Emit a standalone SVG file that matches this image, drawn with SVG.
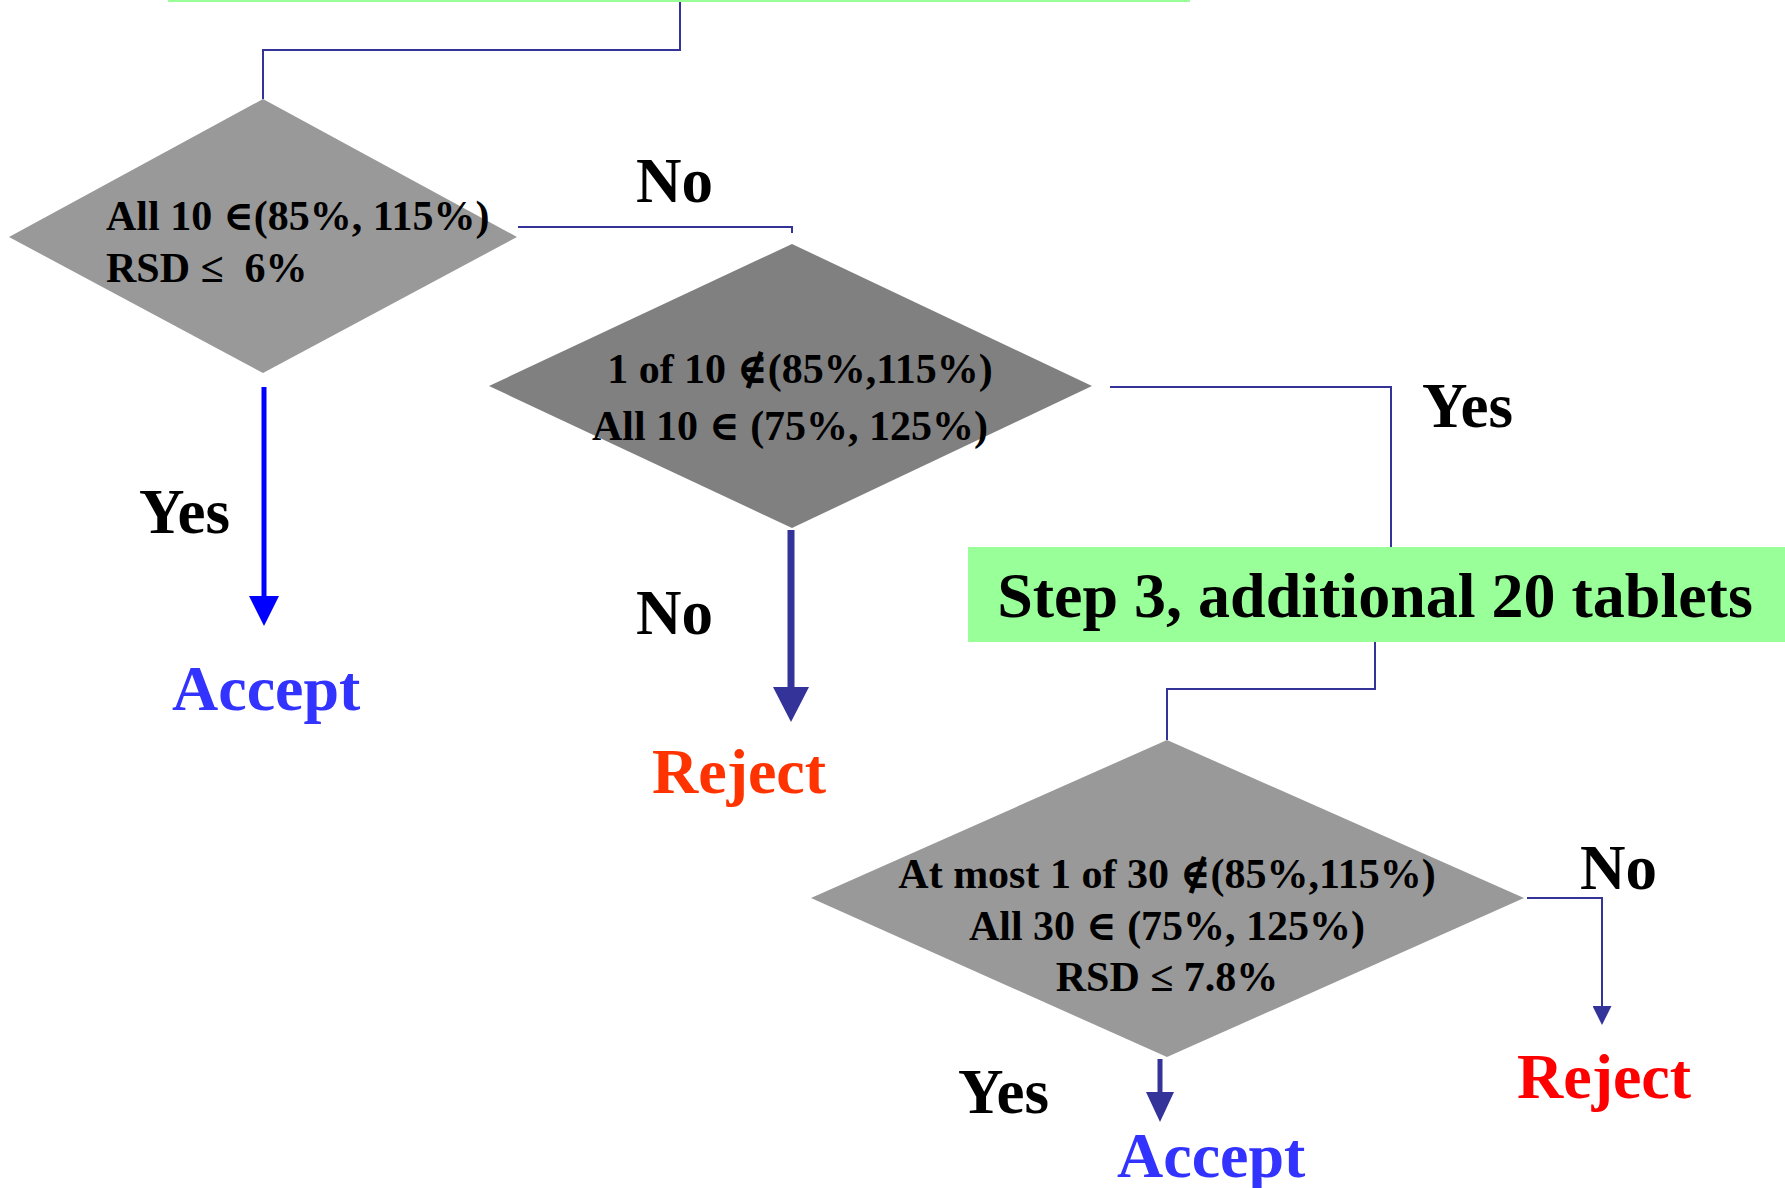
<svg xmlns="http://www.w3.org/2000/svg" width="1785" height="1188" viewBox="0 0 1785 1188">
<style>
.t{font-family:"Liberation Serif","DejaVu Serif",serif;font-weight:bold;}
.cond{font-size:42px;fill:#000;}
.lbl{font-size:63px;fill:#000;}
.big{font-size:64px;}
.conn{fill:none;stroke:#333399;stroke-width:2;}
</style>
<defs>
<marker id="mBlue" markerUnits="userSpaceOnUse" markerWidth="30" markerHeight="30" refX="0" refY="15" orient="auto" viewBox="0 0 30 30"><path d="M0,0 L30,15 L0,30 z" fill="#0000FF"/></marker>
<marker id="mDarkBig" markerUnits="userSpaceOnUse" markerWidth="35" markerHeight="36" refX="0" refY="18" orient="auto" viewBox="0 0 35 36"><path d="M0,0 L35,18 L0,36 z" fill="#333399"/></marker>
<marker id="mDarkMid" markerUnits="userSpaceOnUse" markerWidth="30" markerHeight="28" refX="0" refY="14" orient="auto" viewBox="0 0 30 28"><path d="M0,0 L30,14 L0,28 z" fill="#333399"/></marker>
<marker id="mDarkSmall" markerUnits="userSpaceOnUse" markerWidth="19" markerHeight="19" refX="0" refY="9.5" orient="auto" viewBox="0 0 19 19"><path d="M0,0 L19,9.5 L0,19 z" fill="#333399"/></marker>
</defs>
<rect width="1785" height="1188" fill="#FFFFFF"/>

<g id="connectors">
<path class="conn" d="M680,0 V50 H263 V99"/>
<path class="conn" d="M518,227 H792 V233"/>
<path class="conn" d="M1110,387 H1391 V547"/>
<path class="conn" d="M1375,642 V689 H1167 V740"/>
<path class="conn" d="M1527,898 H1602 V1006" marker-end="url(#mDarkSmall)"/>
<path d="M264,387 V596" fill="none" stroke="#0000FF" stroke-width="5" marker-end="url(#mBlue)"/>
<path d="M791,530 V687" fill="none" stroke="#333399" stroke-width="7" marker-end="url(#mDarkBig)"/>
<path d="M1160,1059 V1092" fill="none" stroke="#333399" stroke-width="5" marker-end="url(#mDarkMid)"/>
</g>

<g id="step2-box">
<rect x="168" y="-60" width="1022" height="62" fill="#99FF99"/>
</g>

<g id="diamond1">
<polygon points="263,99 517,237 263,373 9,237" fill="#999999"/>
<text class="t cond" x="106" y="230">All 10 ∈(85%, 115%)</text>
<text class="t cond" x="106" y="282" xml:space="preserve">RSD ≤  6%</text>
</g>

<g id="diamond2">
<polygon points="792,244 1092,386 792,528 489,386" fill="#808080"/>
<text class="t cond" x="800" y="383" text-anchor="middle">1 of 10 ∉(85%,115%)</text>
<text class="t cond" x="790" y="440" text-anchor="middle">All 10 ∈ (75%, 125%)</text>
</g>

<g id="step3-box">
<rect x="968" y="547" width="817" height="95" fill="#99FF99"/>
<text class="t big" x="1375" y="617" text-anchor="middle" fill="#000">Step 3, additional 20 tablets</text>
</g>

<g id="diamond3">
<polygon points="1167,740 1524,898 1167,1057 811,898" fill="#999999"/>
<text class="t cond" x="1167" y="888" text-anchor="middle">At most 1 of 30 ∉(85%,115%)</text>
<text class="t cond" x="1167" y="940" text-anchor="middle">All 30 ∈ (75%, 125%)</text>
<text class="t cond" x="1167" y="991" text-anchor="middle">RSD ≤ 7.8%</text>
</g>

<g id="labels">
<text class="t lbl" x="636" y="202">No</text>
<text class="t lbl" x="1422" y="427">Yes</text>
<text class="t lbl" x="139" y="533">Yes</text>
<text class="t lbl" x="636" y="634">No</text>
<text class="t lbl" x="1580" y="889">No</text>
<text class="t lbl" x="958" y="1113">Yes</text>
</g>

<g id="accept1"><text class="t big" x="172" y="710" fill="#3333FF">Accept</text></g>
<g id="reject1"><text class="t big" x="652" y="793" fill="#FF3300">Reject</text></g>
<g id="reject2"><text class="t big" x="1517" y="1098" fill="#FF0000">Reject</text></g>
<g id="accept2"><text class="t big" x="1117" y="1177" fill="#3333FF">Accept</text></g>
</svg>
